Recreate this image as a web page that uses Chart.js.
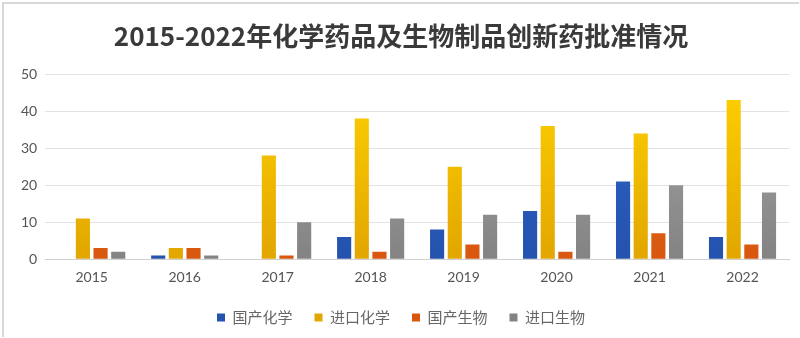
<!DOCTYPE html>
<html>
<head>
<meta charset="utf-8">
<script src="https://cdn.jsdelivr.net/npm/chart.js@4/dist/chart.umd.min.js"></script>
<style>
  html, body { margin: 0; padding: 0; background: #fff; }
  #wrap { position: absolute; left: 2px; top: 2px; width: 797px; height: 335px; border-top: 2px solid #d8d8d8; border-left: 2px solid #d8d8d8; box-sizing: border-box; }
</style>
</head>
<body>
<div id="wrap"><canvas id="myChart"></canvas></div>
<script>
const years = ["2015", "2016", "2017", "2018", "2019", "2020", "2021", "2022"];
const domesticChem = [0, 1, 0, 6, 8, 13, 21, 6];
const importChem = [11, 3, 28, 38, 25, 36, 34, 43];
const domesticBio = [3, 3, 1, 2, 4, 2, 7, 4];
const importBio = [2, 1, 10, 11, 12, 12, 20, 18];

function grad(top, bottom) {
  return function (context) {
    const chart = context.chart;
    const area = chart.chartArea;
    if (!area) return bottom;
    const g = chart.ctx.createLinearGradient(0, area.top, 0, area.bottom);
    g.addColorStop(0, top);
    g.addColorStop(1, bottom);
    return g;
  };
}

const ctx = document.getElementById("myChart");

new Chart(ctx, {
  type: "bar",
  data: {
    labels: years,
    datasets: [
      { label: "国产化学", data: domesticChem, backgroundColor: grad("#2f66cc", "#2452ae") },
      { label: "进口化学", data: importChem, backgroundColor: grad("#ffd200", "#e2a600") },
      { label: "国产生物", data: domesticBio, backgroundColor: grad("#f27a2a", "#d8560e") },
      { label: "进口生物", data: importBio, backgroundColor: grad("#a8a8a8", "#838383") },
    ],
  },
  options: {
    responsive: true,
    maintainAspectRatio: false,
    animation: false,
    datasets: {
      bar: { categoryPercentage: 0.76, barPercentage: 0.8 },
    },
    layout: { padding: { left: 9, right: 10, top: 0, bottom: 2 } },
    plugins: {
      title: {
        display: true,
        text: "2015-2022年化学药品及生物制品创新药批准情况",
        color: "#3a3a3a",
        font: { family: "'Noto Sans CJK SC'", size: 26, weight: "bold" },
        padding: { top: 17, bottom: 22 },
      },
      legend: {
        position: "bottom",
        labels: {
          boxWidth: 8,
          boxHeight: 8,
          color: "#666",
          padding: 22,
          font: { family: "'Noto Sans CJK SC'", size: 15 },
        },
      },
      tooltip: { enabled: false },
    },
    scales: {
      x: {
        grid: { display: false },
        border: { color: "#d0d0d0" },
        ticks: { color: "#555", padding: 2, font: { family: "Lato", size: 14 } },
      },
      y: {
        min: 0,
        max: 50,
        ticks: { stepSize: 10, color: "#555", padding: 8, font: { family: "Lato", size: 14 } },
        grid: { color: "#e3e3e3", drawTicks: false },
        border: { display: false },
      },
    },
  },
});
</script>
</body>
</html>
